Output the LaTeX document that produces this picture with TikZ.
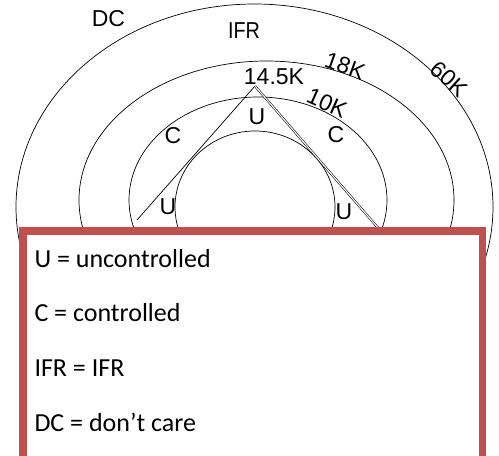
\documentclass[tikz,border=0pt]{standalone}
\usepackage{fontspec}
\setmainfont{Liberation Sans}
\newfontfamily\legendfont{Carlito}
\definecolor{legendred}{HTML}{C0504D}
\begin{document}
\begin{tikzpicture}[x=1pt,y=-1pt,
    ring/.style={draw=black, line width=0.7pt},
    zone/.style={font=\fontsize{23}{27}\selectfont, inner sep=0pt},
    route/.style={draw=black, line width=0.7pt},
    legendline/.style={font=\legendfont\fontsize{26}{31}\selectfont, anchor=base west, inner sep=0pt}]
  \useasboundingbox (0,0) rectangle (499,456);
  \clip (0,0) rectangle (499,456);

  % altitude rings
  \coordinate (cDC)  at (254.5,207);
  \coordinate (c18)  at (266.5,200);
  \coordinate (c10)  at (258,200);
  \coordinate (cIn)  at (255,207);
  \draw[ring] (cDC) ellipse [x radius=238.5pt, y radius=203pt];
  \draw[ring] (c18) ellipse [x radius=187.5pt, y radius=139pt];
  \draw[ring] (c10) ellipse [x radius=129pt, y radius=103pt];
  \draw[ring] (cIn) ellipse [x radius=80pt, y radius=76pt];

  % climb / descent profile
  \coordinate (apex) at (255,86);
  \coordinate (leftEnd) at (137,220);
  \coordinate (rightEnd) at (379,229);
  \draw[route] (apex) -- (leftEnd);
  \draw[route, line width=0.55pt, double=white, double distance=1.1pt] (apex) -- (rightEnd);

  % zone labels
  \node[zone] (dc)  at (108.5,18.5) {DC};
  \node[zone, xscale=0.86] (ifr) at (244,31) {IFR};
  \node[zone] (k145) at (274,76.5) {14.5K};
  \node[zone, rotate=-20] (k18) at (345,66) {18K};
  \node[zone, rotate=-42] (k60) at (449,79) {60K};
  \node[zone, rotate=-24] (k10) at (327,103) {10K};
  \node[zone] (uTop) at (257,117) {U};
  \node[zone] (cLeft) at (173,136) {C};
  \node[zone] (cRight) at (336,135) {C};
  \node[zone] (uLeft) at (168,207) {U};
  \node[zone] (uRight) at (344,212) {U};

  % legend box
  \draw[draw=legendred, fill=white, line width=7.5pt] (22.8,231) rectangle (482.3,460);
  \node[legendline] (lgU)   at (34.3,267.3) {U = uncontrolled};
  \node[legendline] (lgC)   at (34.3,321.7) {C = controlled};
  \node[legendline] (lgIFR) at (34.3,376.7) {IFR = IFR};
  \node[legendline] (lgDC)  at (34.3,431.7) {DC = don’t care};
\end{tikzpicture}
\end{document}
